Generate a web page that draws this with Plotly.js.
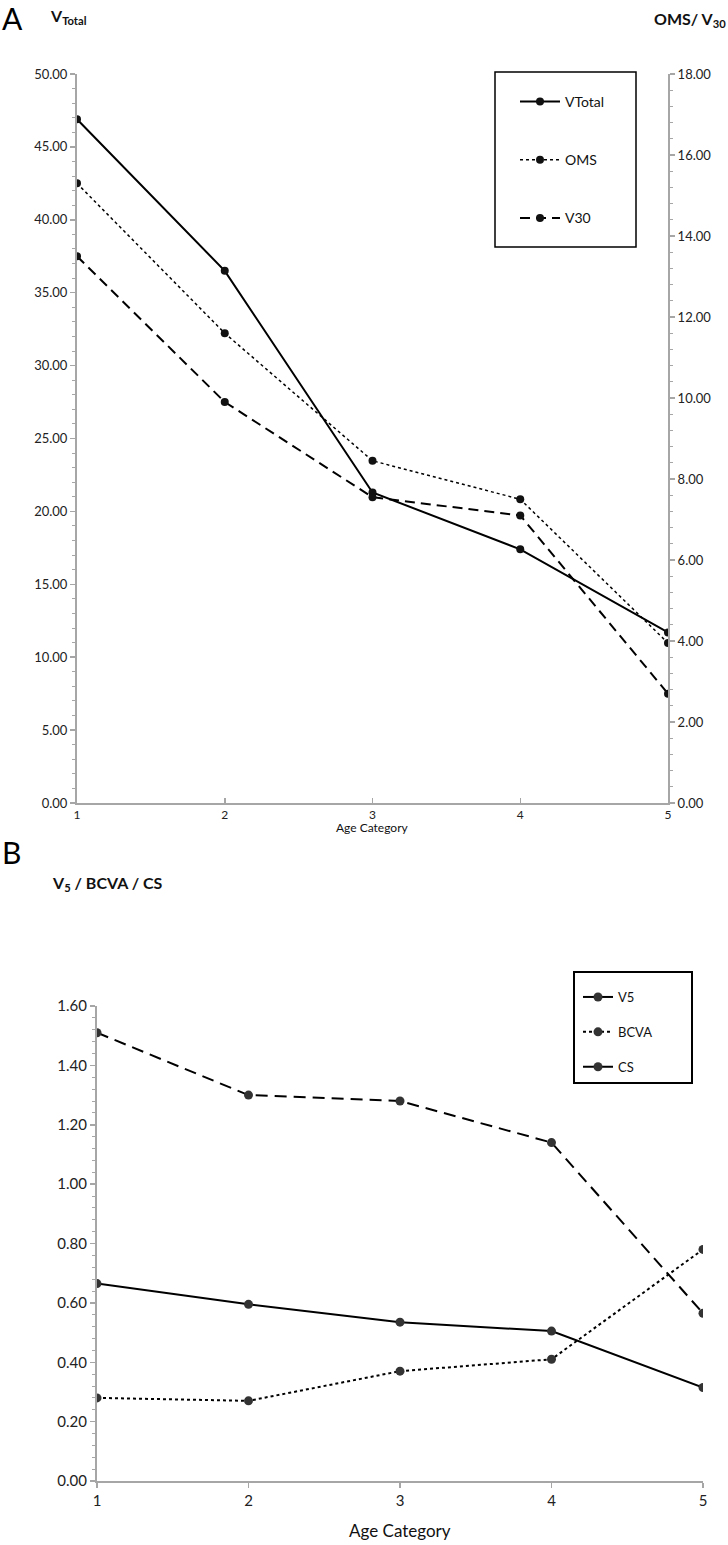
<!DOCTYPE html>
<html>
<head>
<meta charset="utf-8">
<script src="https://cdn.plot.ly/plotly-3.0.1.min.js"></script>
<style>
html,body{margin:0;padding:0;background:#fff;}
#chart{width:728px;height:1545px;}
</style>
</head>
<body>
<div id="chart"></div>
<script>
// ---- data ----
const ageCategory = [1, 2, 3, 4, 5];
const vTotal = [46.9, 36.5, 21.3, 17.4, 11.7];
const oms = [15.3, 11.6, 8.45, 7.5, 3.95];
const v30 = [13.5, 9.9, 7.55, 7.1, 2.7];
const v5 = [0.665, 0.595, 0.535, 0.505, 0.315];
const bcva = [0.28, 0.27, 0.37, 0.41, 0.78];
const cs = [1.51, 1.30, 1.28, 1.14, 0.565];
const namesA = ['VTotal', 'OMS', 'V30'];
const namesB = ['V5', 'BCVA', 'CS'];

// ---- helpers for layout positions (pixels -> paper) ----
const W = 728, H = 1545;
const px = x => x / W;
const py = y => 1 - y / H;

const FONT = 'Lato, "Noto Sans", sans-serif';
const AXC = '#a6a6a6';

const traces = [
  {x: ageCategory, y: vTotal, name: namesA[0], type: 'scatter', mode: 'lines+markers',
   xaxis: 'x', yaxis: 'y', legend: 'legend', legendgroup: 'a1',
   line: {color: '#000', width: 2}, marker: {color: '#111', size: 8}},
  {x: ageCategory, y: oms, name: namesA[1], type: 'scatter', mode: 'lines+markers',
   xaxis: 'x', yaxis: 'y2', legend: 'legend', legendgroup: 'a2',
   line: {color: '#000', width: 1.5, dash: 'dot'}, marker: {color: '#111', size: 8}},
  {x: ageCategory, y: v30, name: namesA[2], type: 'scatter', mode: 'lines+markers',
   xaxis: 'x', yaxis: 'y2', legend: 'legend', legendgroup: 'a3',
   line: {color: '#000', width: 2, dash: '10px,6px'}, marker: {color: '#111', size: 8}},
  {x: ageCategory, y: v5, name: namesB[0], type: 'scatter', mode: 'lines+markers',
   xaxis: 'x2', yaxis: 'y3', legend: 'legend2', legendgroup: 'b1',
   line: {color: '#000', width: 2}, marker: {color: '#333', size: 9}},
  {x: ageCategory, y: bcva, name: namesB[1], type: 'scatter', mode: 'lines+markers',
   xaxis: 'x2', yaxis: 'y3', legend: 'legend2', legendgroup: 'b2',
   line: {color: '#000', width: 2, dash: 'dot'}, marker: {color: '#333', size: 9}},
  {x: ageCategory, y: cs, name: namesB[2], type: 'scatter', mode: 'lines+markers',
   xaxis: 'x2', yaxis: 'y3', legend: 'legend2', legendgroup: 'b3',
   line: {color: '#000', width: 2, dash: '12px,7px'}, marker: {color: '#333', size: 9}}
];

const baseAxis = {
  showgrid: false, zeroline: false, showline: true, linecolor: AXC, linewidth: 2,
  ticks: 'outside', tickcolor: AXC, tickwidth: 1.5, ticklen: 5, fixedrange: true
};
const overlayTicks = (over, extra) => Object.assign({}, {
  showgrid: false, zeroline: false, showline: false, showticklabels: false,
  ticks: 'inside', tickcolor: AXC, tickwidth: 1.5, ticklen: 5, overlaying: over, fixedrange: true
}, extra);

const domXA = [px(77), px(668)];
const domYA = [py(803), py(74)];
const domXB = [px(97), px(703)];
const domYB = [py(1481), py(1006)];

const layout = {
  width: W, height: H,
  margin: {l: 0, r: 0, t: 0, b: 0},
  paper_bgcolor: '#fff', plot_bgcolor: 'rgba(0,0,0,0)',
  font: {family: FONT, color: '#222', size: 13},
  xaxis: Object.assign({}, baseAxis, {domain: domXA, anchor: 'y', range: [1, 5], ticks: 'inside',
    tickvals: ageCategory, ticktext: ageCategory.map(String), tickfont: {size: 12, color: '#222'}}),
  yaxis: Object.assign({}, baseAxis, {domain: domYA, anchor: 'x', range: [0, 50], dtick: 5,
    tickformat: '.2f', tickfont: {size: 13, color: '#222'},
    minor: {dtick: 1, ticks: 'outside', ticklen: 3, tickcolor: AXC, tickwidth: 1}}),
  yaxis2: Object.assign({}, baseAxis, {domain: domYA, anchor: 'x', overlaying: 'y', side: 'right',
    range: [0, 18], dtick: 2, tickformat: '.2f', tickfont: {size: 13, color: '#222'},
    minor: {dtick: 0.4, ticks: 'outside', ticklen: 3, tickcolor: AXC, tickwidth: 1}}),
  xaxis2: Object.assign({}, baseAxis, {domain: domXB, anchor: 'y3', range: [1, 5],
    tickvals: ageCategory, ticktext: ageCategory.map(String), tickfont: {size: 15, color: '#222'}}),
  yaxis3: Object.assign({}, baseAxis, {domain: domYB, anchor: 'x2', range: [0, 1.6], dtick: 0.2,
    tickformat: '.2f', tickfont: {size: 15, color: '#222'},
    minor: {dtick: 0.04, ticks: 'outside', ticklen: 3, tickcolor: AXC, tickwidth: 1}}),
  // overlay axes for cross-style major ticks
  xaxis3: overlayTicks('x', {domain: domXA, anchor: 'y', range: [1, 5], tickvals: ageCategory, ticks: 'outside'}),
  yaxis4: overlayTicks('y', {domain: domYA, anchor: 'x', range: [0, 50], dtick: 5}),
  yaxis5: overlayTicks('y', {domain: domYA, anchor: 'x', side: 'right', range: [0, 18], dtick: 2}),
  xaxis4: overlayTicks('x2', {domain: domXB, anchor: 'y3', range: [1, 5], tickvals: ageCategory}),
  yaxis6: overlayTicks('y3', {domain: domYB, anchor: 'x2', range: [0, 1.6], dtick: 0.2}),
  legend: {x: px(515), y: py(86), xanchor: 'left', yanchor: 'top', bgcolor: 'rgba(0,0,0,0)',
    borderwidth: 0, itemwidth: 40, tracegroupgap: 37, traceorder: 'grouped',
    font: {family: FONT, size: 14, color: '#111'}},
  legend2: {x: px(578), y: py(982), xanchor: 'left', yanchor: 'top', bgcolor: 'rgba(0,0,0,0)',
    borderwidth: 0, itemwidth: 30, tracegroupgap: 15, traceorder: 'grouped',
    font: {family: FONT, size: 13, color: '#111'}},
  shapes: [
    {type: 'rect', xref: 'paper', yref: 'paper', x0: px(495), x1: px(636), y0: py(247), y1: py(72),
     line: {color: '#000', width: 1.5}},
    {type: 'rect', xref: 'paper', yref: 'paper', x0: px(574), x1: px(692), y0: py(1083), y1: py(972),
     line: {color: '#000', width: 2}}
  ],
  annotations: [
    {text: 'A', xref: 'paper', yref: 'paper', x: px(0), y: py(18), xanchor: 'left', yanchor: 'middle',
     showarrow: false, font: {family: FONT, size: 30, color: '#000'}},
    {text: '<b>V<sub>Total</sub></b>', xref: 'paper', yref: 'paper', x: px(48), y: py(17), xanchor: 'left', yanchor: 'middle',
     showarrow: false, font: {family: FONT, size: 16, color: '#111'}},
    {text: '<b>OMS/ V<sub>30</sub></b>', xref: 'paper', yref: 'paper', x: px(728), y: py(20), xanchor: 'right', yanchor: 'middle',
     showarrow: false, font: {family: FONT, size: 16, color: '#111'}},
    {text: 'Age Category', xref: 'paper', yref: 'paper', x: px(373), y: py(828), xanchor: 'center', yanchor: 'middle',
     showarrow: false, font: {family: FONT, size: 12, color: '#111'}},
    {text: 'B', xref: 'paper', yref: 'paper', x: px(0), y: py(852), xanchor: 'left', yanchor: 'middle',
     showarrow: false, font: {family: FONT, size: 30, color: '#000'}},
    {text: '<b>V<sub>5</sub> / BCVA / CS</b>', xref: 'paper', yref: 'paper', x: px(50), y: py(883), xanchor: 'left', yanchor: 'middle',
     showarrow: false, font: {family: FONT, size: 16, color: '#111'}},
    {text: 'Age Category', xref: 'paper', yref: 'paper', x: px(400), y: py(1530), xanchor: 'center', yanchor: 'middle',
     showarrow: false, font: {family: FONT, size: 17, color: '#111'}}
  ]
};

Plotly.newPlot('chart', traces, layout, {staticPlot: true, displayModeBar: false});
</script>
</body>
</html>
